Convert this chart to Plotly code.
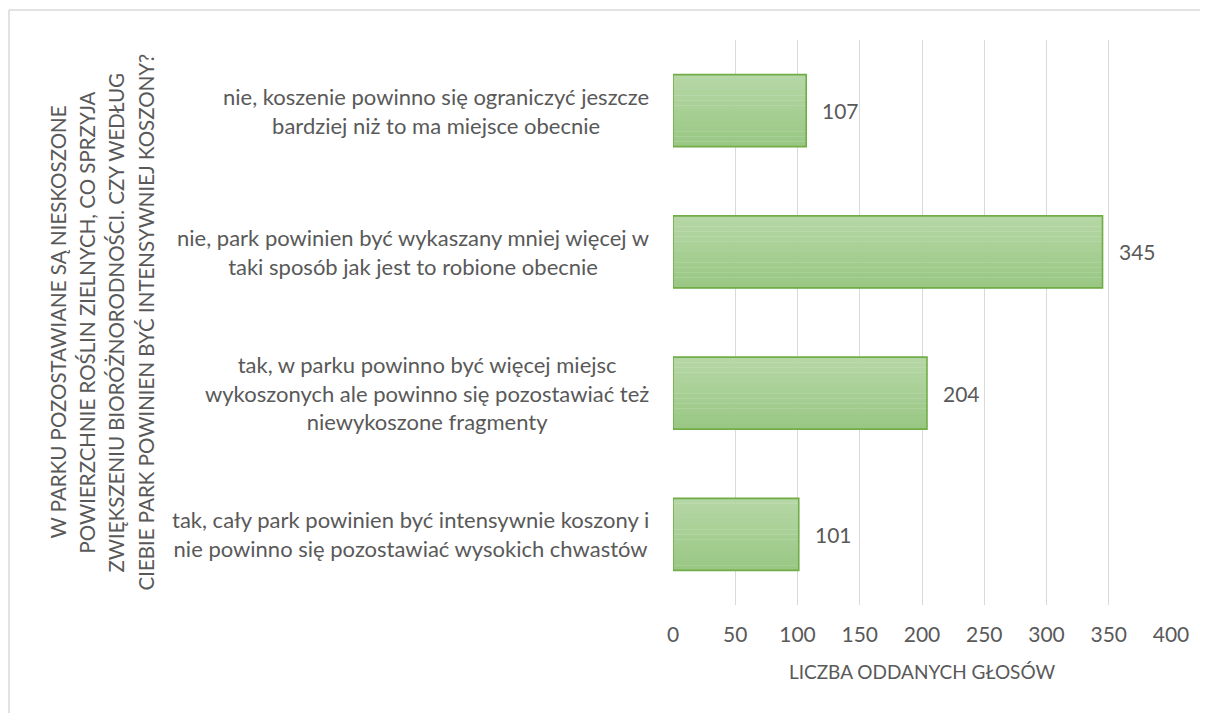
import plotly.graph_objects as go

categories = [
    "nie, koszenie powinno się ograniczyć jeszcze<br>bardziej niż to ma miejsce obecnie",
    "nie, park powinien być wykaszany mniej więcej w<br>taki sposób jak jest to robione obecnie",
    "tak, w parku powinno być więcej miejsc<br>wykoszonych ale powinno się pozostawiać też<br>niewykoszone fragmenty",
    "tak, cały park powinien być intensywnie koszony i<br>nie powinno się pozostawiać wysokich chwastów",
]
values = [107, 345, 204, 101]
x_ticks = [0, 50, 100, 150, 200, 250, 300, 350, 400]
x_title = "LICZBA ODDANYCH GŁOSÓW"
y_title_lines = [
    "W PARKU POZOSTAWIANE SĄ NIESKOSZONE",
    "POWIERZCHNIE ROŚLIN ZIELNYCH, CO SPRZYJA",
    "ZWIĘKSZENIU BIORÓŻNORODNOŚCI. CZY WEDŁUG",
    "CIEBIE PARK POWINIEN BYĆ INTENSYWNIEJ KOSZONY?",
]

FONT = "Lato"
GREY = "#595959"

# plot area geometry (figure pixels)
L, R, T, B = 665, 37, 32, 108
W, H = 1200, 705
PW = W - L - R
PH = H - T - B


def px_to_paper_x(px):
    return (px - L) / PW


ids = list(range(len(categories)))
BAR_W = 0.51
TOP_RGB = (181, 214, 165)
BOT_RGB = (154, 200, 132)
N = 14

fig = go.Figure()
sw = BAR_W / N
for k in range(N):
    t = k / (N - 1)
    rgb = tuple(round(a + (b - a) * t) for a, b in zip(TOP_RGB, BOT_RGB))
    fig.add_trace(go.Bar(
        y=ids, x=values, orientation="h", width=sw * 1.05, offset=-BAR_W / 2 + k * sw,
        marker=dict(color="rgb(%d,%d,%d)" % rgb, line=dict(width=0)),
        hoverinfo="skip",
    ))
fig.add_trace(go.Bar(
    y=ids, x=values, orientation="h", width=BAR_W, offset=-BAR_W / 2,
    marker=dict(color="rgba(0,0,0,0)", line=dict(color="#70ad47", width=1.6)),
    hoverinfo="x",
))

annotations = []
for i, (c, v) in enumerate(zip(categories, values)):
    annotations.append(dict(x=0, xref="paper", y=i, yref="y", text=c, showarrow=False,
                            xanchor="right", yanchor="middle", align="center", xshift=-22,
                            font=dict(family=FONT, size=22, color=GREY)))
    annotations.append(dict(x=v, xref="x", y=i, yref="y", text=str(v), showarrow=False,
                            xanchor="left", yanchor="middle", xshift=14,
                            font=dict(family=FONT, size=21, color=GREY)))
title_centers = [49, 78, 107, 137]
for line, cx in zip(y_title_lines, title_centers):
    annotations.append(dict(x=px_to_paper_x(cx), xref="paper", y=0.5, yref="paper", text=line,
                            showarrow=False, textangle=-90, xanchor="center", yanchor="middle",
                            font=dict(family=FONT, size=20.5, color=GREY)))

border_y = 1 + (T - 2) / PH

fig.update_layout(
    width=W, height=H,
    margin=dict(l=L, r=R, t=T, b=B),
    paper_bgcolor="white", plot_bgcolor="white",
    showlegend=False,
    barmode="overlay",
    annotations=annotations,
    xaxis=dict(range=[0, 400], tickvals=x_ticks, showgrid=True, gridcolor="#d9d9d9", gridwidth=1,
               zeroline=False, showline=False, ticks="", ticklabelstandoff=15,
               tickfont=dict(family=FONT, size=21, color=GREY),
               title=dict(text=x_title, standoff=20, font=dict(family=FONT, size=19, color=GREY))),
    yaxis=dict(range=[3.5, -0.5], showticklabels=False, showgrid=False, zeroline=False,
               showline=False, ticks=""),
    shapes=[
        dict(type="line", xref="paper", yref="paper", x0=px_to_paper_x(1), x1=1.2,
             y0=border_y, y1=border_y, line=dict(color="#d9d9d9", width=1.5)),
        dict(type="line", xref="paper", yref="paper", x0=px_to_paper_x(1), x1=px_to_paper_x(1),
             y0=border_y, y1=-0.3, line=dict(color="#d9d9d9", width=1.5)),
    ],
)

fig.write_html("out.html")
